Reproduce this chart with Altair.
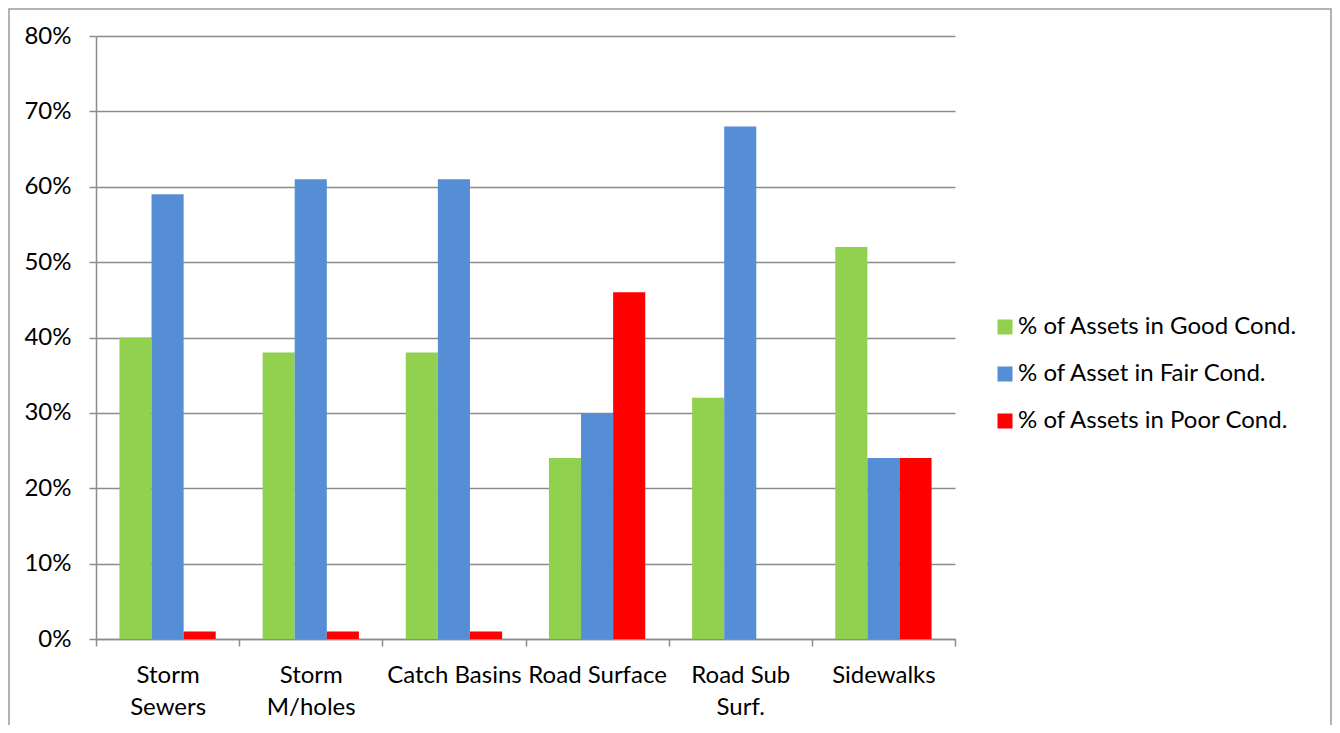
import altair as alt
import pandas as pd

categories = ["Storm\nSewers", "Storm\nM/holes", "Catch Basins", "Road Surface", "Road Sub\nSurf.", "Sidewalks"]
series = ["% of Assets in Good Cond.", "% of Asset in Fair Cond.", "% of Assets in Poor Cond."]
good = [0.40, 0.38, 0.38, 0.24, 0.32, 0.52]
fair = [0.59, 0.61, 0.61, 0.30, 0.68, 0.24]
poor = [0.01, 0.01, 0.01, 0.46, 0.00, 0.24]
colors = ["#92D050", "#558ED5", "#FF0000"]
y_ticks = [0, 0.1, 0.2, 0.3, 0.4, 0.5, 0.6, 0.7, 0.8]

rows = []
for s, vals in zip(series, [good, fair, poor]):
    for c, v in zip(categories, vals):
        rows.append({"category": c, "series": s, "value": v})
df = pd.DataFrame(rows)

FONT = "Lato"
FS = 24
GRAY = "#8c8c8c"

bars = alt.Chart(df).mark_bar().encode(
    x=alt.X("category:N", sort=categories, title=None,
            scale=alt.Scale(paddingInner=0, paddingOuter=0),
            axis=alt.Axis(labelAngle=0, tickBand="extent", tickSize=7, tickColor=GRAY,
                          domainColor=GRAY, domainWidth=1.5, tickWidth=1.5,
                          labelFont=FONT, labelFontSize=FS, labelColor="#000",
                          labelPadding=17, labelLineHeight=32, labelBaseline="top",
                          labelLimit=300,
                          labelExpr="split(datum.label, '\\n')")),
    xOffset=alt.XOffset("series:N", sort=series,
                        scale=alt.Scale(paddingInner=0, paddingOuter=0.73)),
    y=alt.Y("value:Q", title=None,
            scale=alt.Scale(domain=[0, 0.8], nice=False),
            axis=alt.Axis(values=y_ticks, format=".0%", grid=True, gridColor=GRAY,
                          gridWidth=1.5, tickSize=7, tickColor=GRAY, tickWidth=1.5,
                          domainColor=GRAY, domainWidth=1.5,
                          labelFont=FONT, labelFontSize=FS, labelColor="#000",
                          labelPadding=18)),
    color=alt.Color("series:N", sort=series,
                    scale=alt.Scale(domain=series, range=colors),
                    legend=alt.Legend(title=None, orient="none", legendX=897, legendY=279,
                                      symbolType="square", symbolSize=225, symbolStrokeWidth=0,
                                      labelFont=FONT, labelFontSize=FS, labelColor="#000",
                                      labelLimit=400,
                                      labelOffset=1, rowPadding=23, padding=0)),
)

border = alt.Chart(alt.Data(values=[{"a": 1}])).mark_rect(
    filled=False, stroke="#9a9a9a", strokeWidth=1.5
).encode(
    x=alt.value(-87), x2=alt.value(1235), y=alt.value(-27), y2=alt.value(700)
)

chart = alt.layer(border, bars).properties(
    width=859, height=603,
    autosize=alt.AutoSizeParams(type="none"),
    padding={"left": 88, "top": 28, "right": 377, "bottom": 86},
).configure_view(stroke=None)

chart.save("out.html", embed_options={"renderer": "svg", "actions": False})
